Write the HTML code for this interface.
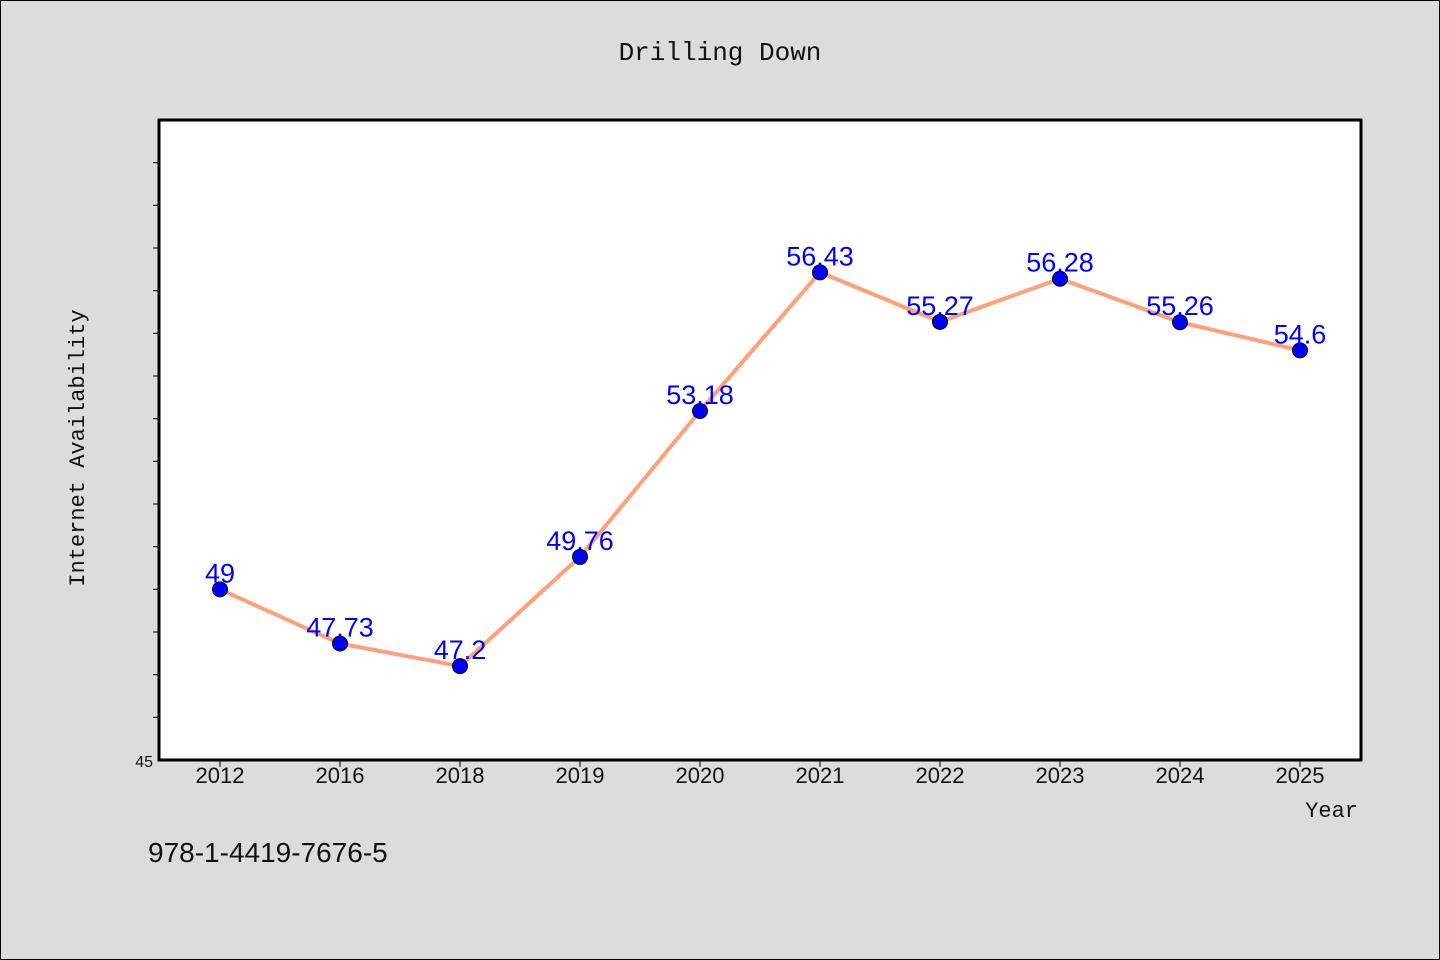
<!DOCTYPE html>
<html><head><meta charset="utf-8"><style>
body{margin:0;background:#dcdcdc;font-family:"Liberation Sans","WenQuanYi Zen Hei",sans-serif}
</style></head><body>
<svg width="1440" height="960" style="display:block">
<rect x="0.5" y="0.5" width="1439" height="959" fill="#dcdcdc" stroke="#000"/>
<text x="720" y="60" text-anchor="middle" font-size="26" font-family="Liberation Mono, monospace" fill="#111">Drilling Down</text>
<rect x="159" y="120" width="1202" height="640" fill="#fff" stroke="#000" stroke-width="3"/>
<text transform="translate(84,448) rotate(-90)" text-anchor="middle" font-size="22" font-family="Liberation Mono, monospace" fill="#111">Internet Availability</text>
<text x="1358" y="817" text-anchor="end" font-size="22" font-family="Liberation Mono, monospace" fill="#111">Year</text>
<text x="148" y="862" font-size="28" fill="#111">978-1-4419-7676-5</text>
<g id="ticks"></g><g id="marks"></g>
</svg>
<script>
const categories=["2012","2016","2018","2019","2020","2021","2022","2023","2024","2025"];
const values=[49,47.73,47.2,49.76,53.18,56.43,55.27,56.28,55.26,54.6];
const yMin=45,yMax=60;
const NS="http://www.w3.org/2000/svg";
const x=i=>220+i*120;
const y=v=>760-(v-yMin)/(yMax-yMin)*640;
function mk(t,a,p){const e=document.createElementNS(NS,t);for(const k in a)e.setAttribute(k,a[k]);p.appendChild(e);return e;}
const tk=document.getElementById('ticks'),mg=document.getElementById('marks');
for(let v=yMin+1;v<yMax;v++){
 const l=mk('line',{x1:153,x2:159,y1:y(v),y2:y(v),stroke:'#000'},tk);
 
 
}
const yl=mk('text',{x:153,y:767,'text-anchor':'end','font-size':16,fill:'#111'},tk);yl.textContent=String(yMin);


categories.forEach((c,i)=>{
 const l=mk('line',{x1:x(i),x2:x(i),y1:761,y2:767,stroke:'#000'},tk);
 
 
 const t=mk('text',{x:x(i),y:783,'text-anchor':'middle','font-size':22,fill:'#111'},tk);t.textContent=c;
 
 
});
const pl=mk('polyline',{points:values.map((v,i)=>x(i)+','+y(v)).join(' '),fill:'none',stroke:'#ffa07a','stroke-width':4},mg);


values.forEach((v,i)=>{
 const c=mk('circle',{cx:x(i),cy:y(v),r:7.5,fill:'#0000ff',stroke:'#000','stroke-width':1},mg);
 
 
});
values.forEach((v,i)=>{
 const t=mk('text',{x:x(i),y:y(v)-7,'text-anchor':'middle','font-size':27,fill:'#0000ff'},mg);t.textContent=String(v);
 
 
});
</script>
</body></html>
